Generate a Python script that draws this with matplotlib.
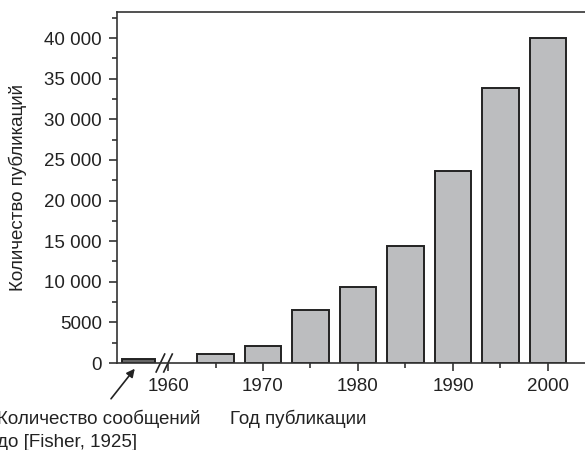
import matplotlib
matplotlib.use('Agg')
import matplotlib.pyplot as plt
from matplotlib.ticker import FixedLocator, FuncFormatter

plt.rcParams['font.family'] = ['Liberation Sans', 'DejaVu Sans']

# data
years = [1965, 1970, 1975, 1980, 1985, 1990, 1995, 2000]
counts = [1150, 2150, 6500, 9350, 14400, 23650, 33850, 40000]
fisher_count = 500
fisher_pos = 1956.9  # placed left of the axis break
major_years = [1960, 1970, 1980, 1990, 2000]
minor_years = [1965, 1975, 1985, 1995]


def fmt(v, pos):
    v = int(v)
    if v >= 10000:
        return f'{v:,}'.replace(',', ' ')
    return str(v)


fs = 13.5
fig = plt.figure(figsize=(5.85, 4.5), dpi=100)
ax = fig.add_axes([0.2, 0.1933, 0.8, 0.78])

ax.bar(years, counts, width=3.8, color='#bcbdbf', edgecolor='#222222', linewidth=1.4)
ax.bar([fisher_pos], [fisher_count], width=3.5, color='#666666', edgecolor='#222222', linewidth=1.4)

ax.set_xlim(1954.63, 2003.9)
ax.set_ylim(0, 43200)

ax.xaxis.set_major_locator(FixedLocator(major_years))
ax.xaxis.set_minor_locator(FixedLocator(minor_years))
ax.yaxis.set_major_locator(FixedLocator(range(0, 40001, 5000)))
ax.yaxis.set_minor_locator(FixedLocator(range(2500, 43000, 5000)))
ax.yaxis.set_major_formatter(FuncFormatter(fmt))

ax.tick_params(axis='both', which='major', direction='out', length=6, width=1.2,
               color='#333333', labelsize=fs, labelcolor='#222222')
ax.tick_params(axis='both', which='minor', direction='out', length=3.5, width=1.2, color='#333333')
ax.tick_params(axis='x', which='major', pad=5)
ax.tick_params(axis='y', which='major', pad=5)

for s in ['left', 'bottom', 'top']:
    ax.spines[s].set_linewidth(1.2)
    ax.spines[s].set_color('#333333')
ax.spines['right'].set_visible(False)

ax.set_ylabel('Количество публикаций', fontsize=fs, color='#222222', labelpad=12)

# axis break marks
for xb in [1959.2, 1960.0]:
    ax.plot([xb - 0.45, xb + 0.45], [-1100, 1100], color='#222222', lw=1.2, clip_on=False)

# arrow and notes below the axis
ax.annotate('', xy=(1956.5, -700), xytext=(1954.0, -4400),
            arrowprops=dict(arrowstyle='-|>', color='#222222', lw=1.2, mutation_scale=12,
                            shrinkA=0, shrinkB=0),
            annotation_clip=False)
fig.text(-3, 450 - 424, 'Количество сообщений', fontsize=fs, color='#222222',
         va='baseline', ha='left', transform=None)
fig.text(-3, 450 - 447, 'до [Fisher, 1925]', fontsize=fs, color='#222222',
         va='baseline', ha='left', transform=None)
fig.text(230, 450 - 424, 'Год публикации', fontsize=fs, color='#222222',
         va='baseline', ha='left', transform=None)

fig.savefig('out.png', dpi=100)
